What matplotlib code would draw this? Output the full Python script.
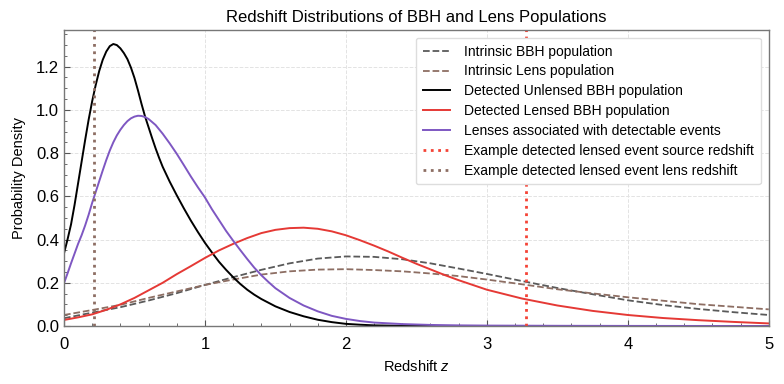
import numpy as np
import matplotlib
matplotlib.use("Agg")
import matplotlib.pyplot as plt

plt.rcParams['font.family'] = ['Liberation Sans', 'DejaVu Sans']
plt.rcParams['mathtext.fontset'] = 'custom'
plt.rcParams['mathtext.it'] = 'Liberation Sans:italic'
plt.rcParams['mathtext.rm'] = 'Liberation Sans'

# ---- data ----
z_unlensed = [0, 0.025, 0.05, 0.075, 0.1, 0.125, 0.15, 0.175, 0.2, 0.225, 0.25, 0.275,
              0.3, 0.325, 0.35, 0.375, 0.4, 0.425, 0.45, 0.475, 0.5, 0.525, 0.55, 0.575,
              0.6, 0.625, 0.65, 0.675, 0.7, 0.75, 0.8, 0.85, 0.9, 0.95, 1.0, 1.05, 1.1,
              1.15, 1.2, 1.25, 1.3, 1.35, 1.4, 1.5, 1.6, 1.7, 1.8, 1.9, 2.0, 2.1, 2.2,
              2.4, 2.6, 3.0, 4.0, 5.0]
p_unlensed = [0.336, 0.40, 0.47, 0.56, 0.66, 0.76, 0.86, 0.955, 1.04, 1.115, 1.18, 1.232,
              1.27, 1.295, 1.305, 1.300, 1.285, 1.263, 1.235, 1.196, 1.148, 1.09, 1.028,
              0.97, 0.92, 0.87, 0.822, 0.778, 0.737, 0.668, 0.605, 0.545, 0.488, 0.435,
              0.385, 0.34, 0.297, 0.26, 0.226, 0.195, 0.168, 0.145, 0.125, 0.091, 0.065,
              0.045, 0.029, 0.018, 0.010, 0.006, 0.003, 0.001, 0.0, 0.0, 0.0, 0.0]

z_lenses = [0, 0.025, 0.05, 0.075, 0.1, 0.125, 0.15, 0.175, 0.2, 0.225, 0.25, 0.275, 0.3,
            0.325, 0.35, 0.375, 0.4, 0.425, 0.45, 0.475, 0.5, 0.525, 0.55, 0.575, 0.6,
            0.65, 0.7, 0.75, 0.8, 0.85, 0.9, 0.95, 1.0, 1.05, 1.1, 1.15, 1.2, 1.25, 1.3,
            1.35, 1.4, 1.45, 1.5, 1.6, 1.7, 1.8, 1.9, 2.0, 2.1, 2.2, 2.4, 2.6, 2.8, 3.0,
            3.5, 4.0, 5.0]
p_lenses = [0.198, 0.243, 0.29, 0.335, 0.38, 0.42, 0.465, 0.515, 0.57, 0.62, 0.67, 0.72,
            0.768, 0.812, 0.85, 0.882, 0.908, 0.93, 0.948, 0.961, 0.969, 0.973, 0.972,
            0.967, 0.958, 0.93, 0.89, 0.845, 0.797, 0.745, 0.692, 0.642, 0.595, 0.54,
            0.49, 0.44, 0.395, 0.352, 0.31, 0.27, 0.235, 0.204, 0.175, 0.13, 0.095,
            0.068, 0.047, 0.033, 0.023, 0.016, 0.009, 0.005, 0.003, 0.002, 0.001,
            0.0005, 0.0]

z_lensed = [0, 0.1, 0.2, 0.3, 0.4, 0.5, 0.6, 0.7, 0.8, 0.9, 1.0, 1.1, 1.2, 1.3, 1.4, 1.5,
            1.6, 1.7, 1.8, 1.9, 2.0, 2.1, 2.2, 2.3, 2.4, 2.5, 2.6, 2.7, 2.8, 2.9, 3.0,
            3.25, 3.5, 3.75, 4.0, 4.25, 4.5, 4.75, 5.0]
p_lensed = [0.028, 0.04, 0.054, 0.075, 0.1, 0.13, 0.165, 0.2, 0.24, 0.277, 0.315, 0.35,
            0.38, 0.407, 0.43, 0.445, 0.453, 0.455, 0.45, 0.438, 0.42, 0.397, 0.372,
            0.345, 0.316, 0.288, 0.262, 0.236, 0.212, 0.19, 0.168, 0.127, 0.095, 0.07,
            0.051, 0.037, 0.027, 0.019, 0.012]

z_intrinsic = [0, 0.2, 0.4, 0.6, 0.8, 1.0, 1.2, 1.4, 1.6, 1.8, 2.0, 2.2, 2.4, 2.6, 2.8,
               3.0, 3.25, 3.5, 3.75, 4.0, 4.25, 4.5, 4.75, 5.0]
p_intrinsic_bbh = [0.036, 0.062, 0.087, 0.118, 0.152, 0.19, 0.226, 0.26, 0.29, 0.312,
                   0.322, 0.32, 0.309, 0.29, 0.266, 0.241, 0.208, 0.176, 0.147, 0.119,
                   0.097, 0.079, 0.064, 0.051]
p_intrinsic_lens = [0.051, 0.074, 0.098, 0.13, 0.16, 0.19, 0.215, 0.238, 0.253, 0.261,
                    0.263, 0.259, 0.253, 0.243, 0.231, 0.215, 0.193, 0.17, 0.151, 0.133,
                    0.117, 0.101, 0.089, 0.077]

z_source_example = 3.28
z_lens_example = 0.21

# ---- plot ----
fig = plt.figure(figsize=(7.84, 3.84), dpi=100)
ax = fig.add_axes([0.0816, 0.151, 0.899, 0.771])

c_grey = '#5a5a5a'
c_brown = '#8d6e63'
c_red = '#e53935'
c_purple = '#7e57c2'

ax.plot(z_intrinsic, p_intrinsic_bbh, '--', color=c_grey, lw=1.3, label='Intrinsic BBH population')
ax.plot(z_intrinsic, p_intrinsic_lens, '--', color=c_brown, lw=1.3, label='Intrinsic Lens population')
ax.plot(z_unlensed, p_unlensed, '-', color='black', lw=1.4, label='Detected Unlensed BBH population')
ax.plot(z_lensed, p_lensed, '-', color=c_red, lw=1.4, label='Detected Lensed BBH population')
ax.plot(z_lenses, p_lenses, '-', color=c_purple, lw=1.4, label='Lenses associated with detectable events')
ax.axvline(z_source_example, color='#f44336', ls=':', lw=2, label='Example detected lensed event source redshift')
ax.axvline(z_lens_example, color=c_brown, ls=':', lw=2, label='Example detected lensed event lens redshift')

ax.set_xlim(0, 5)
ax.set_ylim(0, 1.37)
ax.set_xticks([0, 1, 2, 3, 4, 5])
ax.set_yticks([0, 0.2, 0.4, 0.6, 0.8, 1.0, 1.2])
ax.set_yticklabels(['0.0', '0.2', '0.4', '0.6', '0.8', '1.0', '1.2'])
ax.xaxis.set_minor_locator(matplotlib.ticker.MultipleLocator(0.2))
ax.yaxis.set_minor_locator(matplotlib.ticker.MultipleLocator(0.05))
ax.tick_params(which='both', direction='in', top=False, right=False, labelsize=12,
               colors='#555555', labelcolor='black')
ax.tick_params(which='major', length=4)
ax.tick_params(which='minor', length=2)
ax.tick_params(axis='x', pad=8)
for s in ax.spines.values():
    s.set_color('#777777')
    s.set_linewidth(1.0)
ax.grid(True, which='major', ls='--', color='#e3e3e3', lw=0.7)
ax.set_axisbelow(True)

ax.set_title('Redshift Distributions of BBH and Lens Populations', fontsize=12)
ax.set_xlabel('Redshift $z$', fontsize=10.5, labelpad=5)
ax.set_ylabel('Probability Density', fontsize=10.5, labelpad=7)

leg = ax.legend(loc='upper right', fontsize=10, frameon=True, fancybox=True,
                framealpha=1, edgecolor='#dddddd', handlelength=2.0, handletextpad=1.0,
                labelspacing=0.42, borderpad=0.5, borderaxespad=0.55)

fig.savefig('out.png', dpi=100)
